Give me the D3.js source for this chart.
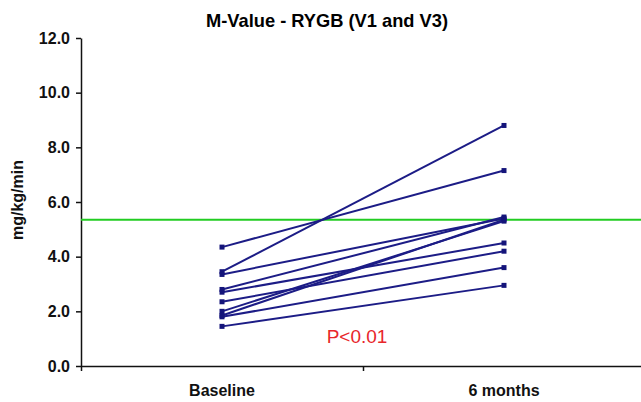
<html>
<head>
<meta charset="utf-8">
<script src="https://d3js.org/d3.v7.min.js"></script>
<style>
  body { margin: 0; background: #fff; }
  text { font-family: "Liberation Sans", Arial, sans-serif; }
</style>
</head>
<body>
<div id="viz"></div>
<script>
// values
var categories = ["Baseline", "6 months"];
var baseline = [4.35, 3.45, 3.35, 2.8, 2.7, 2.35, 2.0, 1.85, 1.8, 1.45];
var sixMonths = [7.15, 8.8, 5.4, 5.45, 4.5, 4.2, 5.3, 5.35, 3.6, 2.95];
var yTicks = [0, 2, 4, 6, 8, 10, 12];
var refLine = 5.35;
var title = "M-Value - RYGB (V1 and V3)";
var yLabel = "mg/kg/min";
var note = "P<0.01";

var width = 641, height = 402;
var plotLeft = 81, plotRight = 645, plotTop = 38, plotBottom = 366;

var svg = d3.select("#viz").append("svg")
    .attr("width", width)
    .attr("height", height);

var x = d3.scaleBand().domain(categories).range([plotLeft, plotRight]).padding(0);
var xEdge = d3.scaleLinear().domain([0, categories.length]).range([plotLeft, plotRight]);
var y = d3.scaleLinear().domain([0, 12]).range([plotBottom, plotTop]);

// title
svg.append("text")
    .attr("x", 327).attr("y", 27)
    .attr("text-anchor", "middle")
    .style("font-size", "19px").style("font-weight", "bold")
    .attr("textLength", 242).attr("lengthAdjust", "spacingAndGlyphs")
    .text(title);

// y axis
var yAxis = svg.append("g")
    .attr("transform", "translate(" + plotLeft + ",0)")
    .call(d3.axisLeft(y).tickValues(yTicks).tickFormat(d3.format(".1f"))
        .tickSizeInner(5).tickSizeOuter(0).tickPadding(6));
yAxis.selectAll("path, line").attr("stroke", "#111").attr("stroke-width", 1.5);
yAxis.selectAll("text").style("font-size", "16px").style("font-weight", "bold")
    .attr("fill", "#111");

// x axis
var xAxis = svg.append("g")
    .attr("transform", "translate(0," + plotBottom + ")")
    .call(d3.axisBottom(xEdge).tickValues(d3.range(categories.length + 1))
        .tickFormat("").tickSizeInner(5).tickSizeOuter(0));
xAxis.selectAll("path, line").attr("stroke", "#111").attr("stroke-width", 1.5);

svg.selectAll(".xlab").data(categories).enter().append("text")
    .attr("class", "xlab")
    .attr("x", function(d) { return x(d) + x.bandwidth() / 2; })
    .attr("y", 396)
    .attr("text-anchor", "middle")
    .style("font-size", "16px").style("font-weight", "bold")
    .attr("fill", "#111")
    .text(function(d) { return d; });

// y label
svg.append("text")
    .attr("transform", "translate(23,200) rotate(-90)")
    .attr("text-anchor", "middle")
    .style("font-size", "16px").style("font-weight", "bold")
    .attr("fill", "#111")
    .text(yLabel);

// reference line
svg.append("line")
    .attr("x1", plotLeft).attr("x2", width)
    .attr("y1", y(refLine)).attr("y2", y(refLine))
    .attr("stroke", "#22cc22").attr("stroke-width", 1.8);

// paired lines
var pairs = baseline.map(function(b, i) { return [b, sixMonths[i]]; });
var cx = function(i) { return x(categories[i]) + x.bandwidth() / 2; };
var line = d3.line().x(function(d, i) { return cx(i); }).y(function(d) { return y(d); });

svg.selectAll(".pair").data(pairs).enter().append("path")
    .attr("class", "pair")
    .attr("d", line)
    .attr("fill", "none")
    .attr("stroke", "#1c1c86").attr("stroke-width", 2);

pairs.forEach(function(p) {
    svg.selectAll(null).data(p).enter().append("rect")
        .attr("x", function(d, i) { return cx(i) - 2.5; })
        .attr("y", function(d) { return y(d) - 2.5; })
        .attr("width", 5).attr("height", 5)
        .attr("fill", "#14147a");
});

// p-value note
svg.append("text")
    .attr("x", 357).attr("y", 343)
    .attr("text-anchor", "middle")
    .style("font-size", "19px")
    .attr("fill", "#e8262b")
    .text(note);
</script>
</body>
</html>
